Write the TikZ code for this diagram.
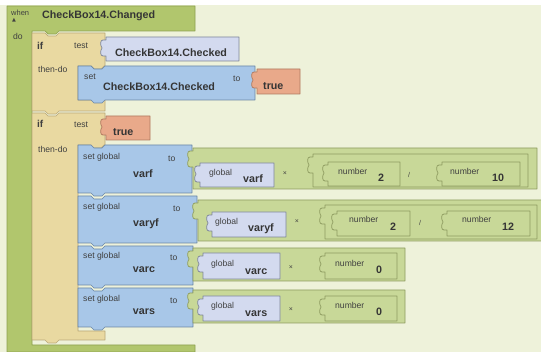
\documentclass[tikz,border=0pt]{standalone}
\usepackage{fontspec}
\setmainfont{Liberation Sans}
\newfontfamily\dejavu{DejaVu Sans}
\definecolor{bg}{HTML}{EEF2DA}
\definecolor{evfill}{HTML}{B1C66D}
\definecolor{evdraw}{HTML}{8DA150}
\definecolor{tanfill}{HTML}{E9D9A1}
\definecolor{tandraw}{HTML}{B9A877}
\definecolor{getfill}{HTML}{D3DAEF}
\definecolor{getdraw}{HTML}{7E8698}
\definecolor{setfill}{HTML}{A8C7E8}
\definecolor{setdraw}{HTML}{6A86A6}
\definecolor{orfill}{HTML}{E9A98A}
\definecolor{ordraw}{HTML}{B07A60}
\definecolor{mfill}{HTML}{C8D898}
\definecolor{mdraw}{HTML}{8E9C60}
\definecolor{lblc}{HTML}{404040}
\definecolor{bigc}{HTML}{353535}
\tikzset{
  lbl/.style={font=\fontsize{8.6}{9}\selectfont, text=lblc, inner sep=0pt, anchor=base west},
  big/.style={font=\fontsize{10.7}{11}\selectfont\bfseries, text=bigc, inner sep=0pt, anchor=base west},
  bigc/.style={big, anchor=base},
  op/.style={font=\fontsize{7}{8}\selectfont, text=lblc, inner sep=0pt},
  blk/.style={line width=.7pt, line join=round}
}
% statement block: x y w h fill draw
\newcommand\stmtblk[6]{%
  \path[blk,fill=#5,draw=#6] (#1,#2) -- ({#1+13},#2) -- ({#1+16},{#2+3}) -- ({#1+24},{#2+3}) -- ({#1+27},#2)
   -- ({#1+#3},#2) -- ({#1+#3},{#2+#4}) -- ({#1+27},{#2+#4}) -- ({#1+24},{#2+#4+3}) -- ({#1+16},{#2+#4+3})
   -- ({#1+13},{#2+#4}) -- (#1,{#2+#4}) -- cycle;}
% value block with left knob: x y w h fill draw
\newcommand\valblk[6]{%
  \path[blk,fill=#5,draw=#6] (#1,#2) -- ({#1+#3},#2) -- ({#1+#3},{#2+#4}) -- (#1,{#2+#4}) -- (#1,{#2+19})
   -- ({#1-3},{#2+19}) .. controls ({#1-6},{#2+19}) and ({#1-6},{#2+14}) .. ({#1-4},{#2+11})
   .. controls ({#1-6},{#2+8}) and ({#1-6},{#2+3}) .. ({#1-3},{#2+3}) -- (#1,{#2+3}) -- cycle;}
\begin{document}
\begin{tikzpicture}[x=1pt,y=-1pt]
\useasboundingbox (0,0) rectangle (541,352);
\fill[bg] (0,0) rectangle (541,352);
\fill[white] (0,0) rectangle (541,5);
% when block
\path[blk,fill=evfill,draw=evdraw] (7,6) -- (195,6) -- (195,31) -- (59,31) -- (56,34) -- (48,34) -- (45,31)
  -- (32,31) -- (32,345) -- (195,345) -- (195,352) -- (7,352) -- cycle;
\node[lbl,font=\fontsize{7.5}{8}\selectfont] (when) at (11,16) {when};
\node[lbl,font=\dejavu\fontsize{5}{5}\selectfont] (tri) at (12,22) {▲};
\node[big] (evname) at (42,19) {CheckBox14.Changed};
\node[lbl] (do) at (13,40) {do};
% if 1
\path[blk,fill=tanfill,draw=tandraw] (32,33) -- (45,33) -- (48,36) -- (56,36) -- (59,33) -- (105,33) -- (105,66)
  -- (104,66) -- (101,69) -- (94,69) -- (91,66) -- (78,66) -- (78,100) -- (105,100) -- (105,111)
  -- (59,111) -- (56,114) -- (48,114) -- (45,111) -- (32,111) -- cycle;
\node[lbl,font=\fontsize{10}{11}\selectfont\bfseries] (if1) at (37,50) {if};
\node[lbl] (test1) at (74,49) {test};
\node[lbl] (thendo1) at (38,73) {then-do};
\valblk{106}{37}{133}{24}{getfill}{getdraw}
\node[big] (getcb) at (115,57) {CheckBox14.Checked};
\stmtblk{78}{66}{177}{34}{setfill}{setdraw}
\node[lbl] (set1) at (84,80) {set};
\node[big] (setcb) at (103,91) {CheckBox14.Checked};
\node[lbl] (to1) at (233,82) {to};
\valblk{257}{69}{43}{25}{orfill}{ordraw}
\node[big] (true1) at (263,90) {true};
% if 2
\path[blk,fill=tanfill,draw=tandraw] (32,113) -- (45,113) -- (48,116) -- (56,116) -- (59,113) -- (105,113) -- (105,145)
  -- (104,145) -- (101,148) -- (94,148) -- (91,145) -- (78,145) -- (78,331) -- (105,331) -- (105,340)
  -- (59,340) -- (56,343) -- (48,343) -- (45,340) -- (32,340) -- cycle;
\node[lbl,font=\fontsize{10}{11}\selectfont\bfseries] (if2) at (37,128) {if};
\node[lbl] (test2) at (74,128) {test};
\node[lbl] (thendo2) at (38,153) {then-do};
\valblk{106}{116}{44}{24}{orfill}{ordraw}
\node[big] (true2) at (113,136) {true};
% set global blocks
\stmtblk{78}{145}{114}{48}{setfill}{setdraw}
\node[lbl] (sg1) at (83,160) {set global};
\node[lbl] (to2) at (168,162) {to};
\node[bigc] (vn1) at (143,178) {varf};
\stmtblk{78}{196}{119}{47}{setfill}{setdraw}
\node[lbl] (sg2) at (83,210) {set global};
\node[lbl] (to3) at (173,212) {to};
\node[bigc] (vn2) at (146,227) {varyf};
\stmtblk{78}{246}{115}{39}{setfill}{setdraw}
\node[lbl] (sg3) at (83,259) {set global};
\node[lbl] (to4) at (170,261) {to};
\node[bigc] (vn3) at (144,273) {varc};
\stmtblk{78}{288}{115}{39}{setfill}{setdraw}
\node[lbl] (sg4) at (83,302) {set global};
\node[lbl] (to5) at (170,304) {to};
\node[bigc] (vn4) at (144,315) {vars};
% row 1: varf * (2 / 10)
\valblk{193}{148}{344}{41}{mfill}{mdraw}
\valblk{200}{163}{74}{24}{getfill}{getdraw}
\node[lbl] (g1) at (209,176) {global};
\node[big] (gv1) at (243,183) {varf};
\node[op] (x1) at (285,174) {×};
\valblk{313}{154}{215}{33}{mfill}{mdraw}
\valblk{328}{162}{72}{24}{mfill}{mdraw}
\node[lbl] (n1) at (338,175) {number};
\node[big] (n1v) at (378,182) {2};
\node[op] (d1) at (409,175) {/};
\valblk{442}{162}{78}{24}{mfill}{mdraw}
\node[lbl] (n2) at (450,175) {number};
\node[big] (n2v) at (492,182) {10};
% row 2: varyf * (2 / 12)
\valblk{198}{200}{350}{41}{mfill}{mdraw}
\valblk{212}{212}{74}{25}{getfill}{getdraw}
\node[lbl] (g2) at (215,225) {global};
\node[big] (gv2) at (248,232) {varyf};
\node[op] (x2) at (297,222) {×};
\valblk{325}{205}{212}{34}{mfill}{mdraw}
\valblk{337}{211}{73}{25}{mfill}{mdraw}
\node[lbl] (n3) at (349,223) {number};
\node[big] (n3v) at (390,231) {2};
\node[op] (d2) at (420,223) {/};
\valblk{447}{211}{83}{25}{mfill}{mdraw}
\node[lbl] (n4) at (462,223) {number};
\node[big] (n4v) at (502,231) {12};
% row 3: varc * 0
\valblk{193}{248}{212}{33}{mfill}{mdraw}
\valblk{203}{253}{77}{26}{getfill}{getdraw}
\node[lbl] (g3) at (211,267) {global};
\node[big] (gv3) at (245,275) {varc};
\node[op] (x3) at (291,268) {×};
\valblk{325}{253}{72}{26}{mfill}{mdraw}
\node[lbl] (n5) at (335,267) {number};
\node[big] (n5v) at (376,274) {0};
% row 4: vars * 0
\valblk{193}{290}{212}{33}{mfill}{mdraw}
\valblk{203}{296}{77}{25}{getfill}{getdraw}
\node[lbl] (g4) at (211,309) {global};
\node[big] (gv4) at (245,317) {vars};
\node[op] (x4) at (291,310) {×};
\valblk{325}{296}{72}{25}{mfill}{mdraw}
\node[lbl] (n6) at (335,309) {number};
\node[big] (n6v) at (376,316) {0};
\end{tikzpicture}
\end{document}
